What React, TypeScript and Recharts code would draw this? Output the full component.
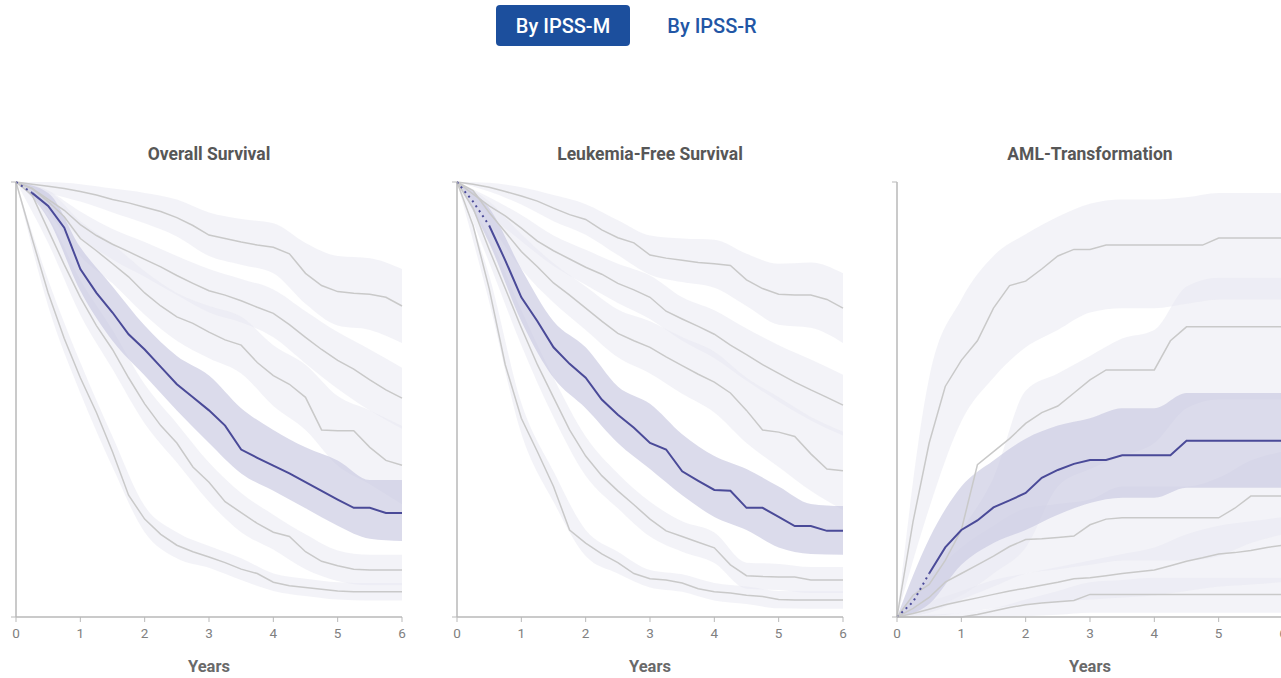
import { Area, ComposedChart, Line, XAxis, YAxis } from "recharts";

// time grid (years) for the KM curves and for the confidence bands
const years = [0, 0.25, 0.5, 0.75, 1, 1.25, 1.5, 1.75, 2, 2.25, 2.5, 2.75, 3, 3.25, 3.5, 3.75, 4, 4.25, 4.5, 4.75, 5, 5.25, 5.5, 5.75, 6];
const bandYears = [0, 0.5, 1, 1.5, 2, 2.5, 3, 3.5, 4, 4.5, 5, 5.5, 6];
const xTicks = [0, 1, 2, 3, 4, 5, 6];
const riskGroups = ["veryLow", "low", "modLow", "high", "veryHigh"];

// Overall survival
const osVeryLow = [1, 0.995, 0.99, 0.985, 0.978, 0.97, 0.96, 0.952, 0.942, 0.932, 0.918, 0.9, 0.878, 0.87, 0.862, 0.855, 0.85, 0.835, 0.79, 0.762, 0.748, 0.744, 0.742, 0.735, 0.715];
const osLow = [1, 0.985, 0.96, 0.935, 0.902, 0.877, 0.857, 0.84, 0.822, 0.805, 0.785, 0.767, 0.75, 0.74, 0.727, 0.712, 0.698, 0.672, 0.643, 0.615, 0.59, 0.57, 0.545, 0.522, 0.503];
const osModLow = [1, 0.985, 0.955, 0.92, 0.87, 0.842, 0.812, 0.782, 0.745, 0.715, 0.69, 0.675, 0.655, 0.637, 0.625, 0.585, 0.555, 0.535, 0.505, 0.43, 0.428, 0.428, 0.39, 0.36, 0.349];
const osModHigh = [1, 0.975, 0.945, 0.895, 0.8, 0.745, 0.7, 0.65, 0.615, 0.575, 0.535, 0.505, 0.475, 0.44, 0.385, 0.366, 0.348, 0.33, 0.31, 0.29, 0.27, 0.251, 0.251, 0.239, 0.239];
const osHigh = [1, 0.97, 0.89, 0.81, 0.735, 0.67, 0.615, 0.55, 0.49, 0.44, 0.4, 0.345, 0.31, 0.265, 0.24, 0.215, 0.195, 0.185, 0.15, 0.128, 0.118, 0.11, 0.108, 0.108, 0.108];
const osVeryHigh = [1, 0.87, 0.745, 0.64, 0.55, 0.47, 0.38, 0.28, 0.225, 0.19, 0.165, 0.15, 0.138, 0.125, 0.11, 0.1, 0.08, 0.072, 0.068, 0.064, 0.06, 0.058, 0.058, 0.058, 0.058];

const osVeryLowLo = [1, 0.975, 0.955, 0.93, 0.905, 0.875, 0.83, 0.81, 0.79, 0.72, 0.67, 0.66, 0.63];
const osVeryLowHi = [1, 1, 0.995, 0.985, 0.975, 0.96, 0.93, 0.915, 0.905, 0.86, 0.83, 0.825, 0.8];
const osLowLo = [1, 0.94, 0.872, 0.822, 0.782, 0.74, 0.7, 0.677, 0.643, 0.583, 0.525, 0.475, 0.433];
const osLowHi = [1, 0.98, 0.932, 0.892, 0.862, 0.83, 0.8, 0.777, 0.753, 0.703, 0.655, 0.615, 0.573];
const osModLowLo = [1, 0.93, 0.83, 0.767, 0.695, 0.635, 0.595, 0.56, 0.485, 0.43, 0.348, 0.305, 0.259];
const osModLowHi = [1, 0.98, 0.91, 0.857, 0.795, 0.745, 0.715, 0.69, 0.625, 0.58, 0.508, 0.475, 0.439];
const osModHighLo = [1, 0.915, 0.75, 0.635, 0.555, 0.475, 0.4, 0.33, 0.29, 0.25, 0.21, 0.18, 0.175];
const osModHighHi = [1, 0.975, 0.85, 0.76, 0.67, 0.6, 0.555, 0.48, 0.43, 0.39, 0.36, 0.315, 0.315];
const osHighLo = [1, 0.86, 0.695, 0.57, 0.445, 0.355, 0.265, 0.195, 0.155, 0.11, 0.083, 0.073, 0.073];
const osHighHi = [1, 0.92, 0.775, 0.66, 0.535, 0.445, 0.355, 0.285, 0.235, 0.19, 0.153, 0.143, 0.143];
const osVeryHighLo = [1, 0.715, 0.515, 0.345, 0.195, 0.135, 0.113, 0.085, 0.06, 0.048, 0.04, 0.038, 0.038];
const osVeryHighHi = [1, 0.775, 0.585, 0.415, 0.255, 0.195, 0.163, 0.135, 0.1, 0.088, 0.08, 0.078, 0.078];

// Leukemia-free survival
const lfsVeryLow = [1, 0.995, 0.988, 0.978, 0.968, 0.956, 0.94, 0.925, 0.914, 0.89, 0.872, 0.86, 0.832, 0.825, 0.82, 0.815, 0.812, 0.808, 0.775, 0.755, 0.742, 0.74, 0.74, 0.73, 0.71];
const lfsLow = [1, 0.972, 0.945, 0.922, 0.894, 0.864, 0.842, 0.823, 0.804, 0.788, 0.767, 0.752, 0.735, 0.703, 0.685, 0.668, 0.65, 0.625, 0.603, 0.58, 0.56, 0.54, 0.522, 0.505, 0.487];
const lfsModLow = [1, 0.98, 0.93, 0.885, 0.84, 0.805, 0.768, 0.74, 0.71, 0.68, 0.652, 0.635, 0.62, 0.598, 0.578, 0.558, 0.54, 0.515, 0.475, 0.43, 0.425, 0.415, 0.375, 0.34, 0.336];
const lfsModHigh = [1, 0.955, 0.9, 0.82, 0.735, 0.68, 0.62, 0.582, 0.55, 0.5, 0.465, 0.435, 0.4, 0.385, 0.335, 0.313, 0.292, 0.29, 0.251, 0.251, 0.23, 0.209, 0.209, 0.198, 0.198];
const lfsHigh = [1, 0.94, 0.845, 0.755, 0.665, 0.58, 0.505, 0.43, 0.37, 0.325, 0.29, 0.258, 0.225, 0.198, 0.185, 0.172, 0.159, 0.12, 0.095, 0.093, 0.092, 0.092, 0.085, 0.085, 0.085];
const lfsVeryHigh = [1, 0.9, 0.755, 0.58, 0.457, 0.38, 0.3, 0.2, 0.17, 0.145, 0.125, 0.1, 0.088, 0.085, 0.078, 0.065, 0.058, 0.055, 0.05, 0.047, 0.04, 0.039, 0.039, 0.039, 0.039];

const lfsVeryLowLo = [1, 0.978, 0.948, 0.91, 0.879, 0.832, 0.787, 0.77, 0.757, 0.715, 0.672, 0.665, 0.63];
const lfsVeryLowHi = [1, 0.998, 0.988, 0.97, 0.949, 0.912, 0.877, 0.87, 0.867, 0.835, 0.812, 0.815, 0.79];
const lfsLowLo = [1, 0.925, 0.864, 0.807, 0.764, 0.722, 0.685, 0.635, 0.595, 0.543, 0.495, 0.452, 0.417];
const lfsLowHi = [1, 0.965, 0.924, 0.877, 0.844, 0.812, 0.785, 0.735, 0.705, 0.663, 0.625, 0.592, 0.557];
const lfsModLowLo = [1, 0.905, 0.8, 0.723, 0.66, 0.597, 0.56, 0.513, 0.47, 0.4, 0.345, 0.29, 0.246];
const lfsModLowHi = [1, 0.955, 0.88, 0.813, 0.76, 0.707, 0.68, 0.643, 0.61, 0.55, 0.505, 0.46, 0.426];
const lfsModHighLo = [1, 0.86, 0.68, 0.55, 0.48, 0.4, 0.34, 0.28, 0.23, 0.2, 0.16, 0.145, 0.143];
const lfsModHighHi = [1, 0.94, 0.8, 0.68, 0.62, 0.53, 0.49, 0.42, 0.37, 0.34, 0.3, 0.26, 0.255];
const lfsHighLo = [1, 0.815, 0.625, 0.46, 0.325, 0.25, 0.185, 0.15, 0.124, 0.065, 0.062, 0.055, 0.055];
const lfsHighHi = [1, 0.875, 0.705, 0.55, 0.415, 0.33, 0.265, 0.22, 0.194, 0.125, 0.122, 0.115, 0.115];
const lfsVeryHighLo = [1, 0.725, 0.422, 0.265, 0.14, 0.1, 0.068, 0.058, 0.038, 0.03, 0.02, 0.019, 0.019];
const lfsVeryHighHi = [1, 0.785, 0.492, 0.335, 0.2, 0.15, 0.108, 0.098, 0.078, 0.07, 0.06, 0.059, 0.059];

// AML transformation (cumulative incidence)
const amlVeryLow = [0, 0, 0, 0, 0, 0.006, 0.014, 0.022, 0.028, 0.032, 0.035, 0.038, 0.052, 0.052, 0.052, 0.052, 0.052, 0.052, 0.052, 0.052, 0.052, 0.052, 0.052, 0.052, 0.052];
const amlLow = [0, 0.008, 0.018, 0.028, 0.036, 0.044, 0.052, 0.06, 0.066, 0.073, 0.08, 0.088, 0.09, 0.095, 0.1, 0.104, 0.108, 0.118, 0.128, 0.136, 0.145, 0.148, 0.153, 0.16, 0.165];
const amlModLow = [0, 0.02, 0.045, 0.08, 0.1, 0.12, 0.14, 0.162, 0.178, 0.18, 0.183, 0.186, 0.212, 0.225, 0.228, 0.228, 0.228, 0.228, 0.228, 0.228, 0.228, 0.25, 0.278, 0.278, 0.278];
const amlModHigh = [0, 0.035, 0.1, 0.16, 0.2, 0.222, 0.252, 0.268, 0.285, 0.32, 0.338, 0.352, 0.361, 0.361, 0.372, 0.372, 0.372, 0.372, 0.405, 0.405, 0.405, 0.405, 0.405, 0.405, 0.405];
const amlHigh = [0, 0.05, 0.075, 0.13, 0.2, 0.35, 0.38, 0.41, 0.445, 0.47, 0.485, 0.515, 0.545, 0.568, 0.568, 0.568, 0.568, 0.635, 0.667, 0.667, 0.667, 0.667, 0.667, 0.667, 0.667];
const amlVeryHigh = [0, 0.22, 0.4, 0.53, 0.59, 0.635, 0.71, 0.762, 0.772, 0.8, 0.83, 0.845, 0.845, 0.855, 0.855, 0.855, 0.855, 0.855, 0.855, 0.855, 0.871, 0.871, 0.871, 0.871, 0.871];

const amlVeryLowLo = [0, 0, 0, 0, 0.002, 0.005, 0.01, 0.01, 0.01, 0.01, 0.01, 0.01, 0.01];
const amlVeryLowHi = [0, 0.005, 0.01, 0.02, 0.04, 0.06, 0.08, 0.085, 0.09, 0.09, 0.09, 0.09, 0.09];
const amlLowLo = [0, 0.002, 0.01, 0.02, 0.03, 0.035, 0.04, 0.045, 0.05, 0.06, 0.07, 0.075, 0.08];
const amlLowHi = [0, 0.035, 0.06, 0.085, 0.1, 0.115, 0.13, 0.145, 0.16, 0.19, 0.21, 0.22, 0.23];
const amlModLowLo = [0, 0.01, 0.04, 0.07, 0.1, 0.11, 0.12, 0.13, 0.13, 0.13, 0.14, 0.17, 0.19];
const amlModLowHi = [0, 0.09, 0.16, 0.21, 0.25, 0.26, 0.27, 0.3, 0.3, 0.3, 0.32, 0.36, 0.38];
const amlModHighLo = [0, 0.03, 0.12, 0.17, 0.2, 0.235, 0.262, 0.274, 0.274, 0.297, 0.297, 0.297, 0.297];
const amlModHighHi = [0, 0.18, 0.3, 0.36, 0.41, 0.44, 0.457, 0.48, 0.48, 0.515, 0.515, 0.515, 0.515];
const amlHighLo = [0, 0.02, 0.05, 0.1, 0.16, 0.3, 0.34, 0.37, 0.4, 0.48, 0.5, 0.5, 0.5];
const amlHighHi = [0, 0.1, 0.2, 0.32, 0.52, 0.56, 0.6, 0.64, 0.66, 0.76, 0.78, 0.78, 0.78];
const amlVeryHighLo = [0, 0.25, 0.45, 0.55, 0.62, 0.66, 0.7, 0.71, 0.71, 0.72, 0.73, 0.73, 0.73];
const amlVeryHighHi = [0, 0.55, 0.73, 0.83, 0.88, 0.92, 0.95, 0.96, 0.96, 0.965, 0.975, 0.975, 0.975];

const GRAY = "#c9c9c9";
const BLUE = "#4a4a98";
const AXIS = "#b9b9b9";

type Curves = Record<string, number[]>;

function buildRows(curves: Curves, dotEnd: number) {
  return years.map((t, i) => {
    const row: Record<string, number | null> = { t };
    for (const k of riskGroups) row[k] = curves[k][i];
    row.modHigh = t >= dotEnd ? curves.modHigh[i] : null;
    row.modHighDot = t <= dotEnd ? curves.modHigh[i] : null;
    return row;
  });
}

function buildBands(lo: Curves, hi: Curves) {
  return bandYears.map((t, i) => {
    const row: Record<string, any> = { t };
    for (const k of [...riskGroups, "modHigh"]) row[k] = [lo[k][i], hi[k][i]];
    return row;
  });
}

const panels = [
  {
    title: "Overall Survival",
    plotLeft: 16,
    rows: buildRows({ veryLow: osVeryLow, low: osLow, modLow: osModLow, modHigh: osModHigh, high: osHigh, veryHigh: osVeryHigh }, 0.25),
    bands: buildBands(
      { veryLow: osVeryLowLo, low: osLowLo, modLow: osModLowLo, modHigh: osModHighLo, high: osHighLo, veryHigh: osVeryHighLo },
      { veryLow: osVeryLowHi, low: osLowHi, modLow: osModLowHi, modHigh: osModHighHi, high: osHighHi, veryHigh: osVeryHighHi }
    ),
  },
  {
    title: "Leukemia-Free Survival",
    plotLeft: 457,
    rows: buildRows({ veryLow: lfsVeryLow, low: lfsLow, modLow: lfsModLow, modHigh: lfsModHigh, high: lfsHigh, veryHigh: lfsVeryHigh }, 0.5),
    bands: buildBands(
      { veryLow: lfsVeryLowLo, low: lfsLowLo, modLow: lfsModLowLo, modHigh: lfsModHighLo, high: lfsHighLo, veryHigh: lfsVeryHighLo },
      { veryLow: lfsVeryLowHi, low: lfsLowHi, modLow: lfsModLowHi, modHigh: lfsModHighHi, high: lfsHighHi, veryHigh: lfsVeryHighHi }
    ),
  },
  {
    title: "AML-Transformation",
    plotLeft: 897,
    rows: buildRows({ veryLow: amlVeryLow, low: amlLow, modLow: amlModLow, modHigh: amlModHigh, high: amlHigh, veryHigh: amlVeryHigh }, 0.5),
    bands: buildBands(
      { veryLow: amlVeryLowLo, low: amlLowLo, modLow: amlModLowLo, modHigh: amlModHighLo, high: amlHighLo, veryHigh: amlVeryHighLo },
      { veryLow: amlVeryLowHi, low: amlLowHi, modLow: amlModLowHi, modHigh: amlModHighHi, high: amlHighHi, veryHigh: amlVeryHighHi }
    ),
  },
];

const PLOT_W = 386;
const PLOT_H = 435;
const PLOT_TOP = 182;
const M = { top: 10, right: 20, bottom: 0, left: 14 };

const Panel = ({ p }: { p: (typeof panels)[number] }) => (
  <>
    <div
      style={{
        position: "absolute",
        left: p.plotLeft,
        top: 143,
        width: PLOT_W,
        textAlign: "center",
        fontSize: 17.5,
        lineHeight: "22px",
        fontWeight: 700,
        color: "#575757",
      }}
    >
      {p.title}
    </div>
    <div style={{ position: "absolute", left: p.plotLeft - 20, top: PLOT_TOP - M.top }}>
      <ComposedChart width={PLOT_W + 40} height={PLOT_H + M.top + 60} data={p.rows} margin={M}>
        <XAxis
          dataKey="t"
          type="number"
          domain={[0, 6]}
          ticks={xTicks}
          interval={0}
          height={60}
          tickSize={5}
          tickMargin={6}
          axisLine={{ stroke: AXIS, strokeWidth: 1.5 }}
          tickLine={{ stroke: AXIS }}
          tick={{ fill: "#808080", fontSize: 13.5 }}
          label={{ value: "Years", position: "insideBottom", offset: 5, fill: "#6a6a6a", fontSize: 16.5, fontWeight: 700 }}
        />
        <YAxis
          type="number"
          domain={[0, 1]}
          ticks={[0, 1]}
          width={6}
          tickSize={5}
          tickFormatter={() => ""}
          axisLine={{ stroke: AXIS, strokeWidth: 1.5 }}
          tickLine={{ stroke: AXIS }}
        />
        {riskGroups.map((k) => (
          <Area
            key={"band-" + k}
            data={p.bands}
            dataKey={k}
            type="monotone"
            stroke="none"
            fill="#e8e8f1"
            fillOpacity={0.5}
            isAnimationActive={false}
          />
        ))}
        <Area data={p.bands} dataKey="modHigh" type="monotone" stroke="none" fill="#c8c8e1" fillOpacity={0.65} isAnimationActive={false} />
        {riskGroups.map((k) => (
          <Line key={k} dataKey={k} type="linear" stroke={GRAY} strokeWidth={1.5} dot={false} isAnimationActive={false} />
        ))}
        <Line dataKey="modHighDot" type="linear" stroke={BLUE} strokeWidth={2} strokeDasharray="2 4" dot={false} isAnimationActive={false} />
        <Line dataKey="modHigh" type="linear" stroke={BLUE} strokeWidth={2} dot={false} isAnimationActive={false} />
      </ComposedChart>
    </div>
  </>
);

export default function App() {
  return (
    <div
      style={{
        position: "absolute",
        left: 0,
        top: 0,
        width: 1281,
        height: 678,
        overflow: "hidden",
        background: "#fff",
        fontFamily: "Roboto, 'Noto Sans', sans-serif",
      }}
    >
      <div
        style={{
          position: "absolute",
          left: 496,
          top: 5,
          width: 134,
          height: 41,
          borderRadius: 4,
          background: "#1c4f9d",
          color: "#fff",
          fontSize: 20,
          fontWeight: 500,
          display: "flex",
          alignItems: "center",
          justifyContent: "center",
        }}
      >
        By IPSS-M
      </div>
      <div
        style={{
          position: "absolute",
          left: 652,
          top: 5,
          width: 120,
          height: 41,
          color: "#2256a5",
          fontSize: 20,
          fontWeight: 500,
          display: "flex",
          alignItems: "center",
          justifyContent: "center",
        }}
      >
        By IPSS-R
      </div>
      {panels.map((p) => (
        <Panel key={p.title} p={p} />
      ))}
    </div>
  );
}
